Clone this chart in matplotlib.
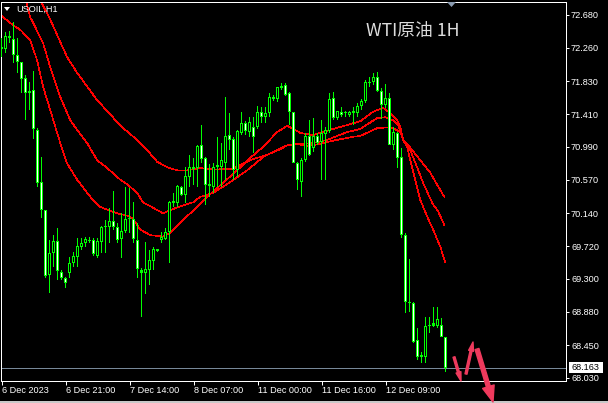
import matplotlib
matplotlib.use('Agg')
import matplotlib.pyplot as plt
from matplotlib.patches import Rectangle, Polygon, FancyArrowPatch

plt.rcParams['font.family'] = ['Liberation Sans', 'DejaVu Sans']

# ---------------- data ----------------
symbol = 'USOIL,H1'
title = 'WTI原油 1H'
last_price = 68.163

opens = [72.27, 72.24, 72.41, 72.37, 72.17, 72.08, 71.87, 71.68, 71.72, 71.21,
         70.54, 70.18, 69.35, 69.63, 69.78, 69.39, 69.31, 69.38, 69.50, 69.58,
         69.71, 69.76, 69.80, 69.80, 69.59, 69.77, 69.96, 69.96, 70.04, 69.96,
         69.81, 69.91, 70.07, 70.07, 69.80, 69.41, 69.38, 69.41, 69.53, 69.66,
         69.80, 69.81, 69.90, 70.27, 70.27, 70.48, 70.37, 70.60, 70.71, 70.72,
         71.01, 70.85, 70.52, 70.48, 70.73, 70.73, 70.78, 71.14, 71.09, 70.69,
         71.17, 71.30, 71.18, 71.25, 71.25, 71.44, 71.37, 71.42, 71.63, 71.60,
         71.77, 71.78, 71.68, 71.44, 70.78, 70.54, 70.82, 71.13, 70.98, 71.13,
         71.05, 71.16, 71.19, 71.62, 71.36, 71.44, 71.42, 71.40, 71.42, 71.42,
         71.51, 71.58, 71.81, 71.82, 71.89, 71.71, 71.53, 71.62, 71.01, 71.17,
         70.86, 69.86, 69.00, 68.99, 68.52, 68.30, 68.30, 68.70, 68.70, 68.70,
         68.71, 68.56]
highs = [72.39, 72.46, 72.48, 72.59, 72.39, 72.08, 71.91, 71.82, 71.96, 71.23,
         70.86, 70.18, 69.80, 69.86, 69.95, 69.41, 69.32, 69.58, 69.64, 69.82,
         69.82, 69.84, 69.84, 69.82, 69.82, 69.98, 70.05, 70.21, 70.43, 70.02,
         70.14, 70.48, 70.46, 70.28, 70.02, 69.44, 69.77, 69.67, 69.71, 69.68,
         69.90, 69.95, 70.30, 70.40, 70.50, 70.49, 70.73, 70.89, 70.85, 71.01,
         71.27, 70.86, 70.77, 70.78, 71.12, 71.04, 71.63, 71.42, 71.12, 71.21,
         71.44, 71.32, 71.37, 71.37, 71.51, 71.50, 71.50, 71.68, 71.66, 71.76,
         71.81, 71.81, 71.69, 71.44, 70.80, 70.85, 71.17, 71.33, 71.36, 71.17,
         71.33, 71.25, 71.68, 71.69, 71.45, 71.50, 71.45, 71.45, 71.50, 71.55,
         71.60, 71.85, 71.89, 71.94, 71.95, 71.74, 71.80, 71.68, 71.25, 71.18,
         70.98, 69.89, 69.55, 69.00, 68.67, 68.36, 68.81, 68.81, 68.94, 68.94,
         68.80, 68.56]
lows = [72.14, 72.19, 72.32, 72.07, 71.94, 71.68, 71.33, 71.46, 71.09, 70.48,
        70.08, 69.31, 69.12, 69.45, 69.29, 69.29, 69.18, 69.31, 69.45, 69.45,
        69.67, 69.71, 69.76, 69.59, 69.57, 69.63, 69.63, 69.76, 69.93, 69.76,
        69.57, 69.89, 69.89, 69.76, 69.31, 68.81, 69.11, 69.22, 69.41, 69.64,
        69.76, 69.80, 69.50, 70.22, 70.22, 70.36, 70.27, 70.48, 70.50, 70.48,
        70.78, 70.25, 70.35, 70.40, 70.48, 70.48, 70.57, 70.95, 70.57, 70.60,
        71.14, 71.14, 71.12, 70.91, 71.22, 71.30, 71.30, 71.37, 71.58, 71.57,
        71.72, 71.64, 71.27, 70.78, 70.44, 70.35, 70.80, 70.87, 70.92, 71.01,
        70.57, 70.57, 71.17, 71.33, 71.33, 71.37, 71.37, 71.37, 71.27, 71.37,
        71.46, 71.55, 71.76, 71.78, 71.69, 71.35, 71.49, 71.01, 70.95, 70.72,
        69.82, 68.86, 68.88, 68.48, 68.26, 68.22, 68.22, 68.61, 68.68, 68.67,
        68.56, 68.11]
closes = [72.24, 72.41, 72.39, 72.17, 72.08, 71.86, 71.68, 71.71, 71.22, 70.53,
          70.18, 69.34, 69.63, 69.78, 69.40, 69.31, 69.25, 69.50, 69.59, 69.72,
          69.76, 69.81, 69.79, 69.62, 69.78, 69.96, 69.98, 70.04, 69.96, 69.80,
          69.91, 70.07, 70.08, 69.81, 69.43, 69.38, 69.43, 69.54, 69.68, 69.68,
          69.84, 69.90, 70.28, 70.30, 70.49, 70.37, 70.62, 70.73, 70.73, 71.00,
          70.84, 70.50, 70.49, 70.73, 70.76, 70.82, 71.13, 71.08, 70.69, 71.19,
          71.30, 71.19, 71.31, 71.12, 71.44, 71.37, 71.42, 71.63, 71.60, 71.76,
          71.74, 71.66, 71.44, 70.78, 70.57, 70.82, 71.13, 70.89, 71.13, 71.04,
          71.17, 71.21, 71.60, 71.36, 71.45, 71.40, 71.43, 71.44, 71.45, 71.51,
          71.58, 71.82, 71.82, 71.89, 71.71, 71.53, 71.62, 71.01, 71.18, 70.85,
          69.86, 69.00, 68.99, 68.49, 68.30, 68.32, 68.70, 68.71, 68.73, 68.79,
          68.56, 68.163]

# moving averages (bar position, price)
ma_fast_x = [-0.3, 2.9, 4.7, 7.2, 8.9, 10.4, 12.2, 13.9, 14.7, 16.4, 18.9, 22.2,
             24.7, 28.9, 31.4, 32.9, 34.7, 37.2, 40.4, 42.2, 44.7, 47.2, 49.7,
             51.4, 55.4, 58.9, 62.2, 65.4, 68.9, 71.4, 72.9, 74.7, 77.9, 82.2,
             86.4, 89.7, 92.9, 95.4, 97.2, 98.9, 99.7, 100.4, 101.4, 102.2,
             103.4, 104.7, 106.4, 107.9, 109.7, 110.9]
ma_fast = [72.68, 72.55, 72.49, 72.36, 72.10, 71.76, 71.46, 71.17, 71.04, 70.78,
           70.57, 70.35, 70.22, 70.14, 70.11, 70.07, 69.93, 69.86, 69.84, 69.89,
           70.02, 70.14, 70.26, 70.35, 70.53, 70.69, 70.85, 70.99, 71.18, 71.26,
           71.22, 71.17, 71.14, 71.21, 71.27, 71.32, 71.44, 71.49, 71.42, 71.33,
           71.25, 71.08, 70.99, 70.82, 70.57, 70.31, 70.10, 69.93, 69.71, 69.52]

ma_mid_x = [4.7, 7.2, 7.9, 10.4, 12.2, 14.7, 17.2, 18.9, 21.4, 23.9, 26.4, 29.7,
            31.7, 33.9, 35.4, 37.9, 40.4, 42.2, 44.7, 47.9, 49.7, 52.9, 57.2,
            61.4, 65.4, 68.9, 71.4, 74.7, 77.9, 81.4, 86.4, 89.7, 93.9, 95.9,
            97.9, 99.2, 100.4, 102.2, 103.9, 105.4, 107.7, 109.2, 110.7]
ma_mid = [73.13, 72.65, 72.58, 72.32, 72.01, 71.63, 71.33, 71.21, 71.04, 70.82,
          70.72, 70.57, 70.50, 70.40, 70.28, 70.21, 70.14, 70.18, 70.23, 70.28,
          70.35, 70.40, 70.54, 70.69, 70.86, 70.95, 71.01, 71.03, 71.04, 71.08,
          71.18, 71.22, 71.36, 71.37, 71.33, 71.27, 71.08, 70.95, 70.73, 70.53,
          70.27, 70.16, 69.99]

ma_slow_x = [7.2, 9.7, 12.2, 16.4, 18.9, 23.9, 28.9, 30.9, 33.9, 36.4, 38.9,
             41.4, 43.9, 46.4, 49.7, 52.9, 57.9, 62.2, 66.4, 69.7, 71.4, 73.9,
             76.4, 79.7, 82.9, 87.9, 89.7, 93.9, 96.4, 97.9, 99.7, 100.4, 102.2,
             104.7, 107.2, 109.2, 110.7]
ma_slow = [73.19, 72.87, 72.62, 72.14, 71.94, 71.59, 71.31, 71.21, 71.08, 70.95,
           70.80, 70.73, 70.69, 70.69, 70.72, 70.70, 70.71, 70.82, 70.89, 70.96,
           71.01, 71.03, 71.00, 71.03, 71.07, 71.12, 71.13, 71.23, 71.24, 71.23,
           71.18, 71.08, 70.98, 70.82, 70.66, 70.48, 70.35]

y_ticks = [72.680, 72.260, 71.830, 71.410, 70.990, 70.570, 70.140, 69.720,
           69.300, 68.880, 68.450, 68.030]
x_tick_pos = [0, 16, 32, 48, 64, 80, 96]
x_tick_labels = ['6 Dec 2023', '6 Dec 21:00', '7 Dec 14:00', '8 Dec 07:00',
                 '11 Dec 00:00', '11 Dec 16:00', '12 Dec 09:00']

# ---------------- figure ----------------
W, H = 608, 403
DPI = 100
fig = plt.figure(figsize=(W / DPI, H / DPI), dpi=DPI, facecolor='black')
ax = fig.add_axes([1 / W, 22 / H, 565 / W, 379 / H], facecolor='black')

GREEN = '#00ff00'
RED = '#ff0000'
PX = 72 / DPI                      # one pixel in points
YPX = (72.8465 - 67.991) / 379     # one pixel in price units
XPX = 0.25                         # one pixel in bar units


def box(x0, y0, w, h, color, z):
    ax.add_patch(Rectangle((x0, y0), w, h, facecolor=color, edgecolor='none',
                           antialiased=False, zorder=z))


# candles: wick, 3px green body, 1px inner fill (black = bull, white = bear)
for i, (o, h, l, c) in enumerate(zip(opens, highs, lows, closes)):
    box(i - XPX / 2, l, XPX, h - l, GREEN, 3)
    lo, hi = min(o, c), max(o, c)
    if hi - lo < YPX:
        lo, hi = (lo + hi) / 2 - YPX / 2, (lo + hi) / 2 + YPX / 2
    box(i - 1.5 * XPX, lo, 3 * XPX, hi - lo, GREEN, 4)
    if hi - lo > 2.5 * YPX:
        inner = 'black' if c >= o else 'white'
        box(i - XPX / 2, lo + YPX, XPX, hi - lo - 2 * YPX, inner, 5)

# moving averages
for xs, ys in ((ma_fast_x, ma_fast), (ma_mid_x, ma_mid), (ma_slow_x, ma_slow)):
    ax.plot(xs, ys, color=RED, lw=0.45, antialiased=False, zorder=2)

# current price line
ax.axhline(last_price, color='#778899', lw=PX, zorder=1)

ax.set_xlim(-0.125, 141.125)
ax.set_ylim(67.991, 72.8465)

for s in ax.spines.values():
    s.set_color('white')
    s.set_linewidth(PX)

ax.yaxis.tick_right()
ax.set_yticks(y_ticks)
ax.set_yticklabels([f'{v:.3f}' for v in y_ticks])
ax.tick_params(axis='y', direction='out', length=3 * PX, width=PX,
               colors='white', labelsize=6.6, pad=2 * PX)
ax.set_xticks(x_tick_pos)
ax.set_xticklabels(x_tick_labels)
ax.tick_params(axis='x', direction='out', length=4 * PX, width=PX,
               colors='white', labelsize=6.6, pad=1 * PX)
for lbl in ax.get_xticklabels():
    lbl.set_horizontalalignment('left')

# price label box on the right axis
ytr = ax.get_yaxis_transform()
ax.add_patch(Rectangle((1 + 3 / 565, last_price - 5.5 * YPX), 34 / 565,
                       11 * YPX, transform=ytr, facecolor='white',
                       edgecolor='none', clip_on=False, zorder=6))
ax.text(1 + 6 / 565, last_price, f'{last_price:.3f}', transform=ytr,
        color='black', fontsize=6.6, ha='left', va='center', zorder=7,
        clip_on=False)

# texts
inch = fig.dpi_scale_trans


def P(x, y):
    return (x / DPI, (H - y) / DPI)


fig.text(16 / W, 1 - 9.5 / H, symbol, color='white', fontsize=6.6,
         ha='left', va='center')
fig.add_artist(Polygon([P(4, 7), P(10, 7), P(7, 11)], closed=True,
                       transform=inch, facecolor='white', edgecolor='none'))
fig.add_artist(Polygon([P(447, 2), P(456, 2), P(451.5, 7)], closed=True,
                       transform=inch, facecolor='#8a9bb0', edgecolor='none'))
fig.text(366 / W, 1 - 31 / H, title, color='#dcdcdc', fontsize=12.8,
         family=['Noto Sans CJK SC', 'DejaVu Sans'], ha='left', va='center')

# arrows
ARROW = '#ef3a5d'
arrows = [((454, 357), (461, 381), 2, 5, 9),
          ((466, 374), (473, 342), 2, 5, 9),
          ((477, 349), (493, 402), 4, 12, 16)]
for a, b, tw, hw, hl in arrows:
    fig.add_artist(FancyArrowPatch(
        posA=P(*a), posB=P(*b), transform=inch,
        arrowstyle=f'simple,tail_width={tw * PX},head_width={hw * PX},'
                   f'head_length={hl * PX}',
        color=ARROW, shrinkA=0, shrinkB=0, mutation_scale=1, zorder=10))

# light strip at bottom edge
fig.add_artist(Rectangle((0, 0), W / DPI, 2 / DPI, transform=inch,
                         facecolor='#c8c8c8', edgecolor='none'))

fig.savefig('out.png', dpi=DPI, facecolor='black')
